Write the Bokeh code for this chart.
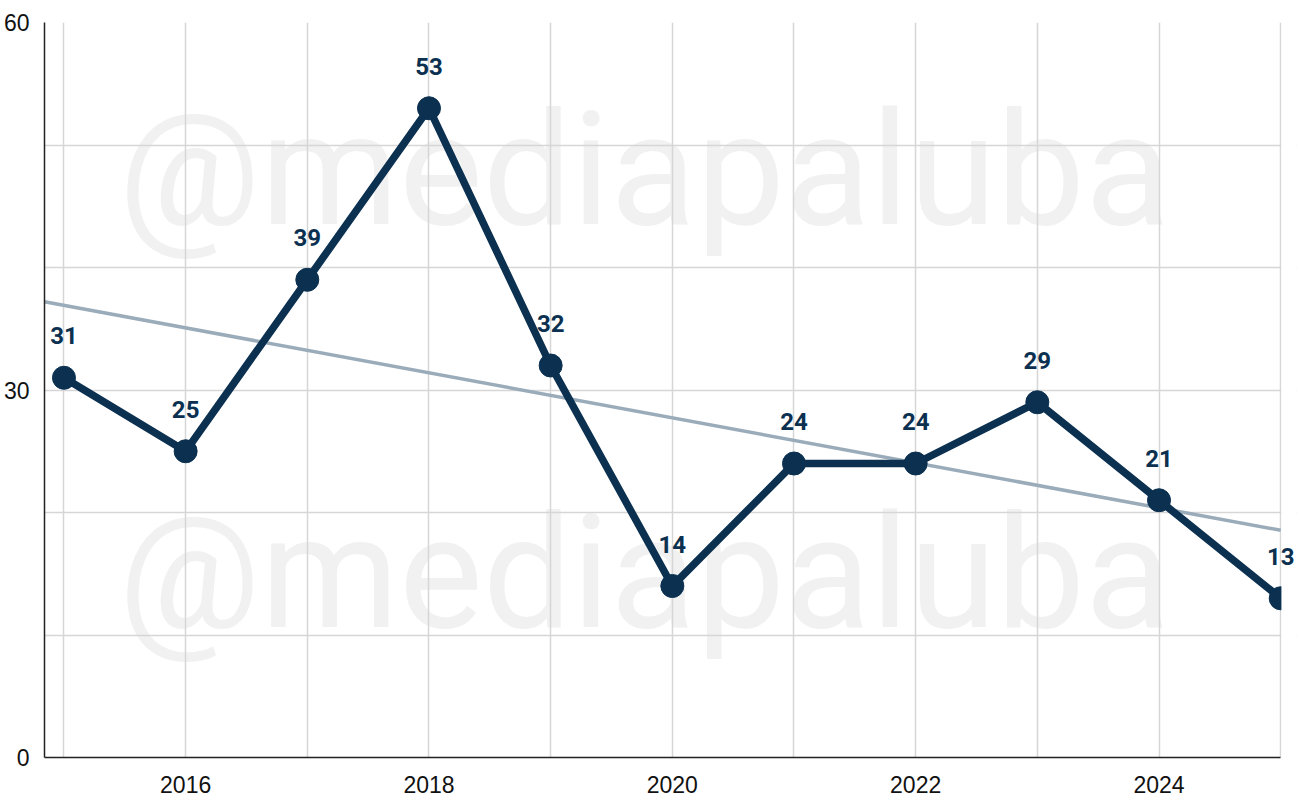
import numpy as np
from bokeh.plotting import figure
from bokeh.models import ColumnDataSource, Label, FixedTicker, BoxAnnotation
from bokeh.embed import file_html
from bokeh.resources import INLINE

years = [2015, 2016, 2017, 2018, 2019, 2020, 2021, 2022, 2023, 2024, 2025]
values = [31, 25, 39, 53, 32, 14, 24, 24, 29, 21, 13]
x_tick_labels = {2016: "2016", 2018: "2018", 2020: "2020", 2022: "2022", 2024: "2024"}
y_tick_labels = {0: "0", 30: "30", 60: "60"}
watermark = "@mediapaluba"

DARK = "#0b3050"
TREND = "#9aabb9"

x_start = 2014.84
x_end = 2025          # end of the visible plot area
x_view_end = 2025.13  # small extra room so the last value label is not clipped

p = figure(width=1298, height=803, x_range=(x_start, x_view_end), y_range=(0, 60),
           output_backend="svg", toolbar_location=None,
           min_border_left=37, min_border_right=2, min_border_top=22, min_border_bottom=46)
p.outline_line_color = None
p.background_fill_color = "white"

# watermark
for ypos in [588, 185]:
    p.add_layout(Label(x=74, y=ypos, x_units="screen", y_units="screen", text=watermark,
                       text_font="Roboto", text_font_size="158px", text_color="#f1f1f1",
                       text_baseline="alphabetic", level="image"))

# grid
p.xgrid.ticker = FixedTicker(ticks=years)
p.ygrid.ticker = FixedTicker(ticks=list(range(0, 61, 10)))
p.xgrid.grid_line_color = "#d6d6d6"
p.ygrid.grid_line_color = "#d6d6d6"
p.xgrid.grid_line_width = 1.5
p.ygrid.grid_line_width = 1.5

# axes
p.xaxis.ticker = FixedTicker(ticks=list(x_tick_labels.keys()))
p.xaxis.major_label_overrides = x_tick_labels
p.xaxis.bounds = (x_start, x_end)
p.yaxis.ticker = FixedTicker(ticks=list(y_tick_labels.keys()))
p.yaxis.major_label_overrides = y_tick_labels
for ax in (p.xaxis, p.yaxis):
    ax.major_tick_line_color = None
    ax.minor_tick_line_color = None
    ax.axis_line_color = "#222222"
    ax.axis_line_width = 1.5
    ax.major_label_text_font = "Liberation Sans"
    ax.major_label_text_font_size = "23px"
    ax.major_label_text_color = "#111111"
p.xaxis.major_label_standoff = 12
p.yaxis.major_label_standoff = 9

# trend line (least squares fit of the data)
xa = np.array(years, dtype=float)
ya = np.array(values, dtype=float)
slope, intercept = np.polyfit(xa, ya, 1)
tx = [x_start, x_end]
ty = [slope * t + intercept for t in tx]
p.line(tx, ty, line_color=TREND, line_width=3.5)

src = ColumnDataSource(dict(x=years, y=values))
p.line("x", "y", source=src, line_color=DARK, line_width=7.5, line_join="round")
p.scatter("x", "y", source=src, size=23, fill_color=DARK, line_color=DARK)

# mask everything right of the plot's end
p.add_layout(BoxAnnotation(left=x_end + 0.006, fill_color="white", fill_alpha=1.0,
                           line_color=None, level="annotation"))

for yr, v in zip(years, values):
    p.add_layout(Label(x=yr, y=v, text=str(v), y_offset=42,
                       text_align="center", text_baseline="alphabetic",
                       text_font="Roboto", text_font_style="bold", text_font_size="24px",
                       text_color=DARK, level="overlay"))

open("out.html", "w").write(file_html(p, INLINE))
